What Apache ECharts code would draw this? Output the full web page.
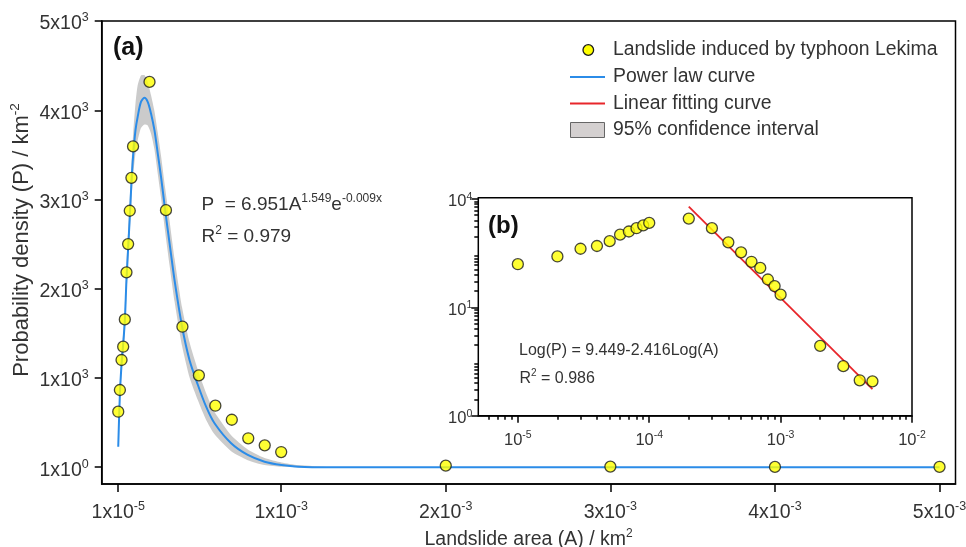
<!DOCTYPE html>
<html>
<head>
<meta charset="utf-8">
<script src="https://cdn.jsdelivr.net/npm/echarts@6/dist/echarts.min.js"></script>
<style>
  html, body { margin: 0; padding: 0; background: #fff; }
  #chart { width: 966px; height: 547px; }
</style>
</head>
<body>
<div id="chart"></div>
<script>
// Landslide area bins (km2) and their probability density (km-2)
const areaBins = [1e-5, 2e-5, 3e-5, 4e-5, 5e-5, 6e-5, 7e-5, 8e-5, 9e-5, 1e-4,
  2e-4, 3e-4, 4e-4, 5e-4, 6e-4, 7e-4, 8e-4, 9e-4, 1e-3, 2e-3, 3e-3, 4e-3, 5e-3];
const density = [623, 866, 1202, 1351, 1657, 2184, 2501, 2874, 3243, 3595,
  4318, 2881, 1575, 1030, 690, 533, 325, 246, 171, 19.4, 8.2, 4.5, 4.3];

// Power law curve
const powerX = [1e-5, 2e-5, 3e-5, 4e-5, 5e-5, 6e-5, 7e-5, 8e-5, 9e-5, 1e-4,
  1.15e-4, 1.28e-4, 1.48e-4, 1.69e-4, 1.89e-4, 2.09e-4, 2.30e-4, 2.50e-4, 2.70e-4, 2.95e-4,
  3.22e-4, 3.52e-4, 3.98e-4, 4.43e-4, 4.94e-4, 5.44e-4, 5.95e-4, 6.96e-4, 7.97e-4, 8.99e-4,
  1.002e-3, 1.103e-3, 1.3e-3, 2e-3, 3e-3, 4e-3, 5e-3];
const powerP = [231, 820, 1150, 1380, 1640, 2100, 2450, 2800, 3180, 3480,
  3780, 3926, 4094, 4139, 4094, 3964, 3777, 3516, 3254, 2881,
  2508, 2097, 1575, 1202, 922, 679, 493, 269, 138, 63,
  26, 7, 1, 1, 1, 1, 1];

// 95% confidence interval of the power law curve
const bandX = powerX.slice(0, 33);
const bandUpper = [280, 950, 1270, 1500, 1800, 2280, 2650, 3000, 3380, 3720,
  4080, 4280, 4390, 4394, 4320, 4170, 3990, 3750, 3490, 3130,
  2760, 2340, 1790, 1400, 1090, 830, 620, 360, 200, 105,
  55, 25, 1];
const bandLower = [200, 700, 1050, 1270, 1500, 1930, 2270, 2620, 2980, 3260,
  3520, 3660, 3800, 3840, 3830, 3740, 3560, 3290, 3020, 2640,
  2260, 1860, 1360, 1010, 750, 530, 370, 180, 80, 25,
  5, 0, 0];

// Linear fitting line in the log-log inset
const linearX = [2e-4, 5e-3];
const linearP = [7180, 3.1];

// Tick values and labels
const mainXTicks = [1e-5, 1e-3, 2e-3, 3e-3, 4e-3, 5e-3];
const mainXLabels = ['1x10{s|-5}', '1x10{s|-3}', '2x10{s|-3}', '3x10{s|-3}', '4x10{s|-3}', '5x10{s|-3}'];
const mainYTicks = [1, 1000, 2000, 3000, 4000, 5000];
const mainYLabels = ['1x10{s|0}', '1x10{s|3}', '2x10{s|3}', '3x10{s|3}', '4x10{s|3}', '5x10{s|3}'];
const insetXTicks = [1e-5, 1e-4, 1e-3, 1e-2];
const insetXLabels = ['10{s|-5}', '10{s|-4}', '10{s|-3}', '10{s|-2}'];
const insetYTicks = [1, 100, 10000];
const insetYLabels = ['10{s|0}', '10{s|1}', '10{s|4}'];
const insetXMinor = [6e-6, 7e-6, 8e-6, 9e-6,
  2e-5, 3e-5, 4e-5, 5e-5, 6e-5, 7e-5, 8e-5, 9e-5,
  2e-4, 3e-4, 4e-4, 5e-4, 6e-4, 7e-4, 8e-4, 9e-4,
  2e-3, 3e-3, 4e-3, 5e-3, 6e-3, 7e-3, 8e-3, 9e-3];
const insetYMinor = [2, 3, 4, 5, 6, 7, 8, 9, 20, 30, 40, 50, 60, 70, 80, 90,
  200, 300, 400, 500, 600, 700, 800, 900, 2000, 3000, 4000, 5000, 6000, 7000, 8000, 9000];

const FONT = '"Liberation Sans", Arial, sans-serif';
const TEXT = '#333';
const BLUE = '#2b8ce8';
const RED = '#e8262b';
const YELLOW = '#ffff00';
const BAND = '#cbcbcb';

/**
 * Picks the label of the tick closest to a value.
 */
const pickLabel = (ticks, labels, value, isLog) => {
  let best = 0;
  let bestDiff = Infinity;
  ticks.forEach((t, i) => {
    const d = isLog ? Math.abs(Math.log10(t) - Math.log10(value)) : Math.abs(t - value);
    if (d < bestDiff) { bestDiff = d; best = i; }
  });
  return labels[best];
};

const supRich = (base, sup, pad) => ({
  b: { fontSize: base, fontFamily: FONT, color: TEXT },
  s: { fontSize: sup, fontFamily: FONT, color: TEXT, padding: [0, 0, pad, 0] }
});

const supRichFill = (base, sup, pad) => ({
  b: { fontSize: base, fontFamily: FONT, fill: TEXT },
  s: { fontSize: sup, fontFamily: FONT, fill: TEXT, padding: [0, 0, pad, 0] }
});

const wrap = (label) => label.replace(/^([^{]+)/, '{b|$1}');

const blackLine = { show: true, onZero: false, lineStyle: { color: '#000', width: 1.5 } };

const chart = echarts.init(document.getElementById('chart'));

const option = {
  backgroundColor: '#fff',
  animation: false,
  grid: [
    { left: 101.7, top: 21, width: 853.8, height: 463, show: true, borderColor: '#000', borderWidth: 1.5,
      outerBoundsMode: 'none', containLabel: false },
    { left: 478.3, top: 197.7, width: 433.7, height: 218, show: true, borderColor: '#000', borderWidth: 1.5,
      backgroundColor: '#fff', z: 5, outerBoundsMode: 'none', containLabel: false }
  ],
  xAxis: [
    {
      gridIndex: 0, type: 'value', min: -0.0905e-3, max: 5.097e-3, position: 'bottom',
      axisLine: blackLine,
      axisTick: { show: true, customValues: mainXTicks, length: 8, lineStyle: { color: '#000', width: 1.5 } },
      axisLabel: {
        customValues: mainXTicks, margin: 16,
        formatter: (v) => wrap(pickLabel(mainXTicks, mainXLabels, v, false)),
        rich: supRich(19.5, 12.5, 12)
      },
      splitLine: { show: false },
      name: '{b|Landslide area (A) / km}{s|2}', nameLocation: 'middle', nameGap: 39,
      nameTextStyle: { rich: supRich(19.5, 12, 12) }
    },
    {
      gridIndex: 1, type: 'log', logBase: 10, min: 5e-6, max: 1e-2, position: 'bottom',
      axisLine: blackLine,
      axisTick: { show: true, customValues: insetXTicks, length: 7, lineStyle: { color: '#000', width: 1.5 } },
      axisLabel: {
        customValues: insetXTicks, margin: 14,
        formatter: (v) => wrap(pickLabel(insetXTicks, insetXLabels, v, true)),
        rich: supRich(16.5, 10.5, 10)
      },
      splitLine: { show: false }
    },
    {
      gridIndex: 1, type: 'log', logBase: 10, min: 5e-6, max: 1e-2, position: 'bottom',
      axisLine: { show: false, onZero: false },
      axisTick: { show: true, customValues: insetXMinor, length: 4, lineStyle: { color: '#000', width: 1.5 } },
      axisLabel: { show: false },
      splitLine: { show: false }
    }
  ],
  yAxis: [
    {
      gridIndex: 0, type: 'value', min: -187, max: 5000, position: 'left',
      axisLine: blackLine,
      axisTick: { show: true, customValues: mainYTicks, length: 7, lineStyle: { color: '#000', width: 1.5 } },
      axisLabel: {
        customValues: mainYTicks, margin: 13, padding: [6, 0, 0, 0],
        formatter: (v) => wrap(pickLabel(mainYTicks, mainYLabels, v, false)),
        rich: supRich(19.5, 12.5, 12)
      },
      splitLine: { show: false }
    },
    {
      gridIndex: 1, type: 'log', logBase: 10, min: 1, max: 10500, position: 'left',
      axisLine: blackLine,
      axisTick: { show: true, customValues: insetYTicks, length: 7, lineStyle: { color: '#000', width: 1.5 } },
      axisLabel: {
        customValues: insetYTicks, margin: 6, padding: [6, 0, 0, 0],
        formatter: (v) => wrap(pickLabel(insetYTicks, insetYLabels, v, true)),
        rich: supRich(16.5, 10.5, 10)
      },
      splitLine: { show: false }
    },
    {
      gridIndex: 1, type: 'log', logBase: 10, min: 1, max: 10500, position: 'left',
      axisLine: { show: false, onZero: false },
      axisTick: { show: true, customValues: insetYMinor, length: 4, lineStyle: { color: '#000', width: 1.5 } },
      axisLabel: { show: false },
      splitLine: { show: false }
    }
  ],
  series: [
    {
      name: '95% confidence interval',
      type: 'custom',
      xAxisIndex: 0, yAxisIndex: 0,
      data: bandX.map((x, i) => [x, bandUpper[i]]),
      encode: { x: 0, y: 1 },
      renderItem: (params, api) => {
        if (params.dataIndex !== 0) return null;
        const pts = bandX.map((x, i) => api.coord([x, bandUpper[i]]));
        for (let i = bandX.length - 1; i >= 0; i--) {
          pts.push(api.coord([bandX[i], bandLower[i]]));
        }
        return { type: 'polygon', shape: { points: pts, smooth: 0.2 }, style: { fill: BAND } };
      },
      z: 1
    },
    {
      name: 'Power law curve',
      type: 'line',
      xAxisIndex: 0, yAxisIndex: 0,
      data: powerX.map((x, i) => [x, powerP[i]]),
      smooth: 0.3,
      showSymbol: false,
      lineStyle: { color: BLUE, width: 2 },
      z: 2
    },
    {
      name: 'Landslide induced by typhoon Lekima',
      type: 'scatter',
      xAxisIndex: 0, yAxisIndex: 0,
      data: areaBins.map((x, i) => [x, density[i]]),
      symbolSize: 11,
      itemStyle: { color: YELLOW, borderColor: '#1a1a1a', borderWidth: 1.3 },
      z: 3
    },
    {
      name: 'Linear fitting curve',
      type: 'line',
      xAxisIndex: 1, yAxisIndex: 1,
      data: linearX.map((x, i) => [x, linearP[i]]),
      showSymbol: false,
      lineStyle: { color: RED, width: 1.8 },
      z: 6
    },
    {
      name: 'Landslide (log)',
      type: 'scatter',
      xAxisIndex: 1, yAxisIndex: 1,
      data: areaBins.map((x, i) => [x, density[i]]),
      symbolSize: 11,
      itemStyle: { color: YELLOW, borderColor: '#1a1a1a', borderWidth: 1.3 },
      z: 7
    }
  ],
  graphic: [
    // y axis title
    { type: 'text', x: 22, y: 240, rotation: Math.PI / 2, z: 10, style: {
      text: '{b|Probability density (P) / km}{s|-2}', textAlign: 'center', verticalAlign: 'middle',
      rich: supRichFill(22, 13.5, 13)
    } },
    { type: 'text', x: 113, y: 48, z: 10, style: { text: '(a)', font: 'bold 25px ' + FONT, fill: '#111', verticalAlign: 'middle' } },
    { type: 'text', x: 488, y: 226, z: 10, style: { text: '(b)', font: 'bold 24px ' + FONT, fill: '#111', verticalAlign: 'middle' } },
    { type: 'text', x: 201.5, y: 205, z: 10, style: {
      text: '{b|P  = 6.951A}{s|1.549}{b|e}{s|-0.009x}', verticalAlign: 'middle',
      rich: supRichFill(19, 12, 12)
    } },
    { type: 'text', x: 201.5, y: 236.7, z: 10, style: {
      text: '{b|R}{s|2}{b| = 0.979}', verticalAlign: 'middle',
      rich: supRichFill(19, 12, 12)
    } },
    { type: 'text', x: 519, y: 351, z: 10, style: {
      text: 'Log(P) = 9.449-2.416Log(A)', font: '16px ' + FONT, fill: TEXT, verticalAlign: 'middle'
    } },
    { type: 'text', x: 519.5, y: 378.3, z: 10, style: {
      text: '{b|R}{s|2}{b| = 0.986}', verticalAlign: 'middle',
      rich: supRichFill(16, 10, 10)
    } },
    // legend
    { type: 'circle', z: 10, shape: { cx: 588.3, cy: 50, r: 5.3 }, style: { fill: YELLOW, stroke: '#1a1a1a', lineWidth: 1.3 } },
    { type: 'text', x: 613, y: 50, z: 10, style: { text: 'Landslide induced by typhoon Lekima', font: '19.4px ' + FONT, fill: TEXT, verticalAlign: 'middle' } },
    { type: 'line', z: 10, shape: { x1: 570, y1: 77, x2: 605, y2: 77 }, style: { stroke: BLUE, lineWidth: 2 } },
    { type: 'text', x: 613, y: 77, z: 10, style: { text: 'Power law curve', font: '19.4px ' + FONT, fill: TEXT, verticalAlign: 'middle' } },
    { type: 'line', z: 10, shape: { x1: 570, y1: 103.5, x2: 605, y2: 103.5 }, style: { stroke: RED, lineWidth: 2 } },
    { type: 'text', x: 613, y: 103.5, z: 10, style: { text: 'Linear fitting curve', font: '19.4px ' + FONT, fill: TEXT, verticalAlign: 'middle' } },
    { type: 'rect', z: 10, shape: { x: 570.5, y: 122.5, width: 34, height: 15 }, style: { fill: '#d4d0d0', stroke: '#666', lineWidth: 1 } },
    { type: 'text', x: 613, y: 130, z: 10, style: { text: '95% confidence interval', font: '19.4px ' + FONT, fill: TEXT, verticalAlign: 'middle' } }
  ]
};

chart.setOption(option);
</script>
</body>
</html>
